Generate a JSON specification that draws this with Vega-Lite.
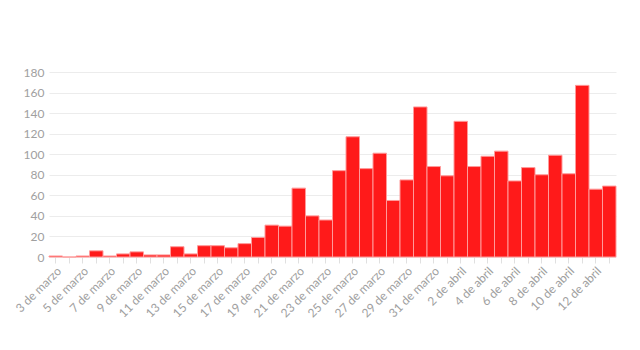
{
  "$schema": "https://vega.github.io/schema/vega-lite/v6.json",
  "autosize": "none",
  "width": 567,
  "height": 185,
  "padding": {"left": 49, "top": 72, "right": 24, "bottom": 93},
  "background": "white",
  "config": {
    "view": {"stroke": null},
    "font": "Lato",
    "axis": {"labelFont": "Lato", "labelColor": "#a0a0a0", "labelFontSize": 12}
  },
  "data": {
    "values": [
      {"fecha": "3 de marzo", "casos": 1},
      {"fecha": "4 de marzo", "casos": 0},
      {"fecha": "5 de marzo", "casos": 1},
      {"fecha": "6 de marzo", "casos": 6},
      {"fecha": "7 de marzo", "casos": 1},
      {"fecha": "8 de marzo", "casos": 3},
      {"fecha": "9 de marzo", "casos": 5},
      {"fecha": "10 de marzo", "casos": 2},
      {"fecha": "11 de marzo", "casos": 2},
      {"fecha": "12 de marzo", "casos": 10},
      {"fecha": "13 de marzo", "casos": 3},
      {"fecha": "14 de marzo", "casos": 11},
      {"fecha": "15 de marzo", "casos": 11},
      {"fecha": "16 de marzo", "casos": 9},
      {"fecha": "17 de marzo", "casos": 13},
      {"fecha": "18 de marzo", "casos": 19},
      {"fecha": "19 de marzo", "casos": 31},
      {"fecha": "20 de marzo", "casos": 30},
      {"fecha": "21 de marzo", "casos": 67},
      {"fecha": "22 de marzo", "casos": 40},
      {"fecha": "23 de marzo", "casos": 36},
      {"fecha": "24 de marzo", "casos": 84},
      {"fecha": "25 de marzo", "casos": 117},
      {"fecha": "26 de marzo", "casos": 86},
      {"fecha": "27 de marzo", "casos": 101},
      {"fecha": "28 de marzo", "casos": 55},
      {"fecha": "29 de marzo", "casos": 75},
      {"fecha": "30 de marzo", "casos": 146},
      {"fecha": "31 de marzo", "casos": 88},
      {"fecha": "1 de abril", "casos": 79},
      {"fecha": "2 de abril", "casos": 132},
      {"fecha": "3 de abril", "casos": 88},
      {"fecha": "4 de abril", "casos": 98},
      {"fecha": "5 de abril", "casos": 103},
      {"fecha": "6 de abril", "casos": 74},
      {"fecha": "7 de abril", "casos": 87},
      {"fecha": "8 de abril", "casos": 80},
      {"fecha": "9 de abril", "casos": 99},
      {"fecha": "10 de abril", "casos": 81},
      {"fecha": "11 de abril", "casos": 167},
      {"fecha": "12 de abril", "casos": 66},
      {"fecha": "13 de abril", "casos": 69}
    ]
  },
  "mark": {"type": "bar", "fill": "#ff1a1a", "stroke": "#ff9a9a", "strokeWidth": 1},
  "encoding": {
    "x": {
      "field": "fecha",
      "type": "ordinal",
      "sort": null,
      "scale": {"paddingInner": 0, "paddingOuter": 0},
      "axis": {
        "title": null,
        "domain": false,
        "ticks": true,
        "tickColor": "#e0e0e0",
        "tickSize": 6,
        "labelAngle": -45,
        "labelPadding": 2,
        "labelExpr": "round(datum.index * 41) % 2 == 0 ? datum.label : ''"
      }
    },
    "y": {
      "field": "casos",
      "type": "quantitative",
      "scale": {"domain": [0, 180]},
      "axis": {
        "title": null,
        "values": [0, 20, 40, 60, 80, 100, 120, 140, 160, 180],
        "domain": false,
        "ticks": false,
        "gridColor": "#ececec",
        "labelPadding": 5
      }
    }
  }
}
